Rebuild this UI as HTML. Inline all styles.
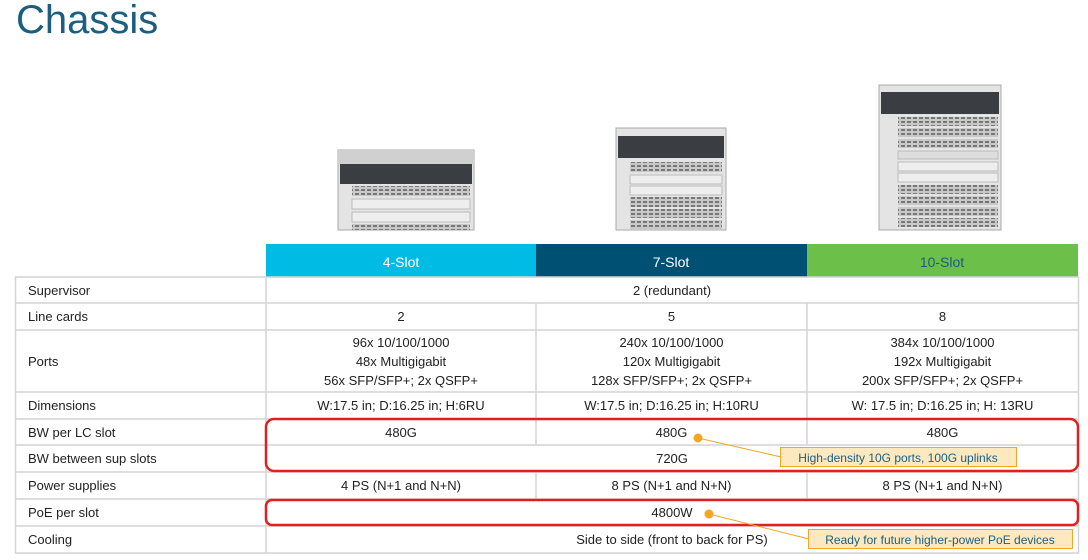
<!DOCTYPE html>
<html><head><meta charset="utf-8"><style>
body{margin:0;width:1088px;height:560px;background:#fff;position:relative;overflow:hidden;font-family:"Liberation Sans",sans-serif;}
.t{position:absolute;left:16px;top:-2px;font-size:40px;color:#1b5e80;}
.a{position:absolute;}
.c{position:absolute;font-size:13px;color:#222;text-align:center;display:flex;align-items:center;justify-content:center;line-height:19px;}
.l{justify-content:flex-start;padding-left:12px;box-sizing:border-box;}
</style></head><body>
<div class="t">Chassis</div>
<svg class="a" style="left:0;top:0" width="1088" height="560">
<defs>
<pattern id="lc" width="6" height="4" patternUnits="userSpaceOnUse"><rect width="6" height="4" fill="#c8c8c8"/><rect x="1" y="1" width="4" height="2" fill="#777"/></pattern>
</defs>
<!-- 4 slot -->
<rect x="338" y="150" width="136" height="80" fill="#e4e4e4" stroke="#aaa"/>
<rect x="338" y="150" width="136" height="14" fill="#d0d0d0"/>
<rect x="340" y="164" width="132" height="20" fill="#3a3d42"/>
<rect x="352" y="186" width="118" height="10" fill="url(#lc)"/>
<rect x="352" y="199" width="118" height="10" fill="#eee" stroke="#bbb"/>
<rect x="352" y="212" width="118" height="10" fill="#eee" stroke="#bbb"/>
<rect x="352" y="224" width="118" height="6" fill="url(#lc)"/>
<!-- 7 slot -->
<rect x="616" y="128" width="110" height="102" fill="#e4e4e4" stroke="#aaa"/>
<rect x="618" y="136" width="106" height="22" fill="#3a3d42"/>
<rect x="630" y="162" width="92" height="10" fill="url(#lc)"/>
<rect x="630" y="175" width="92" height="9" fill="#eee" stroke="#bbb"/>
<rect x="630" y="186" width="92" height="9" fill="#eee" stroke="#bbb"/>
<rect x="630" y="197" width="92" height="10" fill="url(#lc)"/>
<rect x="630" y="209" width="92" height="9" fill="url(#lc)"/>
<rect x="630" y="220" width="92" height="9" fill="url(#lc)"/>
<!-- 10 slot -->
<rect x="879" y="85" width="122" height="145" fill="#e4e4e4" stroke="#aaa"/>
<rect x="881" y="92" width="118" height="22" fill="#3a3d42"/>
<rect x="898" y="117" width="100" height="9" fill="url(#lc)"/>
<rect x="898" y="128" width="100" height="9" fill="url(#lc)"/>
<rect x="898" y="139" width="100" height="9" fill="url(#lc)"/>
<rect x="898" y="151" width="100" height="8" fill="#ddd" stroke="#bbb"/>
<rect x="898" y="162" width="100" height="9" fill="#eee" stroke="#bbb"/>
<rect x="898" y="173" width="100" height="9" fill="#eee" stroke="#bbb"/>
<rect x="898" y="185" width="100" height="9" fill="url(#lc)"/>
<rect x="898" y="196" width="100" height="9" fill="url(#lc)"/>
<rect x="898" y="207" width="100" height="9" fill="url(#lc)"/>
<rect x="898" y="218" width="100" height="9" fill="url(#lc)"/>
<!-- header -->
<rect x="266" y="244" width="270" height="33" fill="#00bce4"/>
<rect x="536" y="244" width="271" height="33" fill="#005073"/>
<rect x="807" y="244" width="271" height="33" fill="#6cc04a"/>
<text x="401" y="267" fill="#fff" font-size="14" text-anchor="middle" font-family="Liberation Sans">4-Slot</text>
<text x="671" y="267" fill="#fff" font-size="14" text-anchor="middle" font-family="Liberation Sans">7-Slot</text>
<text x="942" y="267" fill="#1b5e80" font-size="14" text-anchor="middle" font-family="Liberation Sans">10-Slot</text>
<!-- grid -->
<g stroke="#d4d4d4" stroke-width="1.5" fill="none">
<rect x="15.5" y="277" width="1063" height="276"/>
<line x1="266" y1="277" x2="266" y2="553"/>
<line x1="536" y1="303" x2="536" y2="445"/>
<line x1="807" y1="303" x2="807" y2="445"/>
<line x1="536" y1="472" x2="536" y2="499"/>
<line x1="807" y1="472" x2="807" y2="499"/>
<line x1="15" y1="303" x2="1078" y2="303"/>
<line x1="15" y1="330" x2="1078" y2="330"/>
<line x1="15" y1="392" x2="1078" y2="392"/>
<line x1="15" y1="419" x2="1078" y2="419"/>
<line x1="15" y1="445" x2="1078" y2="445"/>
<line x1="15" y1="472" x2="1078" y2="472"/>
<line x1="15" y1="499" x2="1078" y2="499"/>
<line x1="15" y1="526" x2="1078" y2="526"/>
</g>
<rect x="266" y="419" width="812" height="52" rx="8" fill="none" stroke="#e02020" stroke-width="2.5"/>
<rect x="266" y="500" width="812" height="25" rx="6" fill="none" stroke="#e02020" stroke-width="2.5"/>
<line x1="698" y1="438" x2="781" y2="457" stroke="#f5a623" stroke-width="1"/>
<circle cx="698" cy="438" r="4.5" fill="#f5a623"/>
<line x1="709" y1="514" x2="809" y2="539" stroke="#f5a623" stroke-width="1"/>
<circle cx="709" cy="514" r="4.5" fill="#f5a623"/>
<rect x="780.5" y="447.5" width="236" height="19" fill="#fde9c0" stroke="#f5a623"/>
<text x="898" y="462" fill="#1b5e80" font-size="12" text-anchor="middle" font-family="Liberation Sans">High-density 10G ports, 100G uplinks</text>
<rect x="808.5" y="529.5" width="264" height="19" fill="#fde9c0" stroke="#f5a623"/>
<text x="940" y="544" fill="#1b5e80" font-size="12" text-anchor="middle" font-family="Liberation Sans">Ready for future higher-power PoE devices</text>
</svg>
<div class="c l" style="left:16px;top:277px;width:250px;height:26px">Supervisor</div>
<div class="c" style="left:266px;top:277px;width:812px;height:26px">2 (redundant)</div>
<div class="c l" style="left:16px;top:303px;width:250px;height:27px">Line cards</div>
<div class="c" style="left:266px;top:303px;width:270px;height:27px">2</div>
<div class="c" style="left:536px;top:303px;width:271px;height:27px">5</div>
<div class="c" style="left:807px;top:303px;width:271px;height:27px">8</div>
<div class="c l" style="left:16px;top:330px;width:250px;height:62px">Ports</div>
<div class="c" style="left:266px;top:330px;width:270px;height:62px">96x 10/100/1000<br>48x Multigigabit<br>56x SFP/SFP+; 2x QSFP+</div>
<div class="c" style="left:536px;top:330px;width:271px;height:62px">240x 10/100/1000<br>120x Multigigabit<br>128x SFP/SFP+; 2x QSFP+</div>
<div class="c" style="left:807px;top:330px;width:271px;height:62px">384x 10/100/1000<br>192x Multigigabit<br>200x SFP/SFP+; 2x QSFP+</div>
<div class="c l" style="left:16px;top:392px;width:250px;height:27px">Dimensions</div>
<div class="c" style="left:266px;top:392px;width:270px;height:27px">W:17.5 in; D:16.25 in; H:6RU</div>
<div class="c" style="left:536px;top:392px;width:271px;height:27px">W:17.5 in; D:16.25 in; H:10RU</div>
<div class="c" style="left:807px;top:392px;width:271px;height:27px">W: 17.5 in; D:16.25 in; H: 13RU</div>
<div class="c l" style="left:16px;top:419px;width:250px;height:26px">BW per LC slot</div>
<div class="c" style="left:266px;top:419px;width:270px;height:26px">480G</div>
<div class="c" style="left:536px;top:419px;width:271px;height:26px">480G</div>
<div class="c" style="left:807px;top:419px;width:271px;height:26px">480G</div>
<div class="c l" style="left:16px;top:445px;width:250px;height:27px">BW between sup slots</div>
<div class="c" style="left:266px;top:445px;width:812px;height:27px">720G</div>
<div class="c l" style="left:16px;top:472px;width:250px;height:27px">Power supplies</div>
<div class="c" style="left:266px;top:472px;width:270px;height:27px">4 PS (N+1 and N+N)</div>
<div class="c" style="left:536px;top:472px;width:271px;height:27px">8 PS (N+1 and N+N)</div>
<div class="c" style="left:807px;top:472px;width:271px;height:27px">8 PS (N+1 and N+N)</div>
<div class="c l" style="left:16px;top:499px;width:250px;height:27px">PoE per slot</div>
<div class="c" style="left:266px;top:499px;width:812px;height:27px">4800W</div>
<div class="c l" style="left:16px;top:526px;width:250px;height:27px">Cooling</div>
<div class="c" style="left:266px;top:526px;width:812px;height:27px">Side to side (front to back for PS)</div>
</body></html>
